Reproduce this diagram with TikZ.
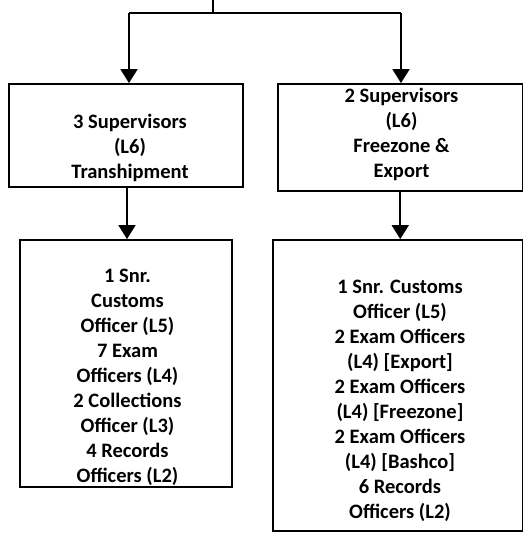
\documentclass[tikz,border=0pt]{standalone}
\usepackage{fontspec}
\setmainfont{Carlito}
\usepackage{tikz}
\usetikzlibrary{positioning,calc,arrows.meta}
\newcommand{\orgline}{1.8pt}
\newcommand{\orgfont}{\fontsize{20.5}{25}\selectfont\bfseries}

\begin{document}
\begin{tikzpicture}[x=1pt, y=-1pt, line width=\orgline,
    orgbox/.style={draw, rectangle, inner sep=0pt},
    orgtext/.style={align=center, inner sep=0pt, font=\orgfont},
    orgarrow/.style={-{Triangle[width=17pt,length=14pt]}}]
  \useasboundingbox (0,0) rectangle (524,539);

  \coordinate (top) at (213, 0);
  \coordinate (split) at (213, 13);
  \coordinate (bl) at (129, 13);
  \coordinate (br) at (401, 13);

  \node [orgbox, minimum width=234pt, minimum height=103pt] (sup1) at (126, 135.5) {};
  \node [orgbox, minimum width=244.5pt, minimum height=107pt] (sup2) at (400.25, 137.5) {};
  \node [orgbox, minimum width=212pt, minimum height=247pt] (staff1) at (126, 363.5) {};
  \node [orgbox, minimum width=249.5pt, minimum height=291pt] (staff2) at (397.75, 385.5) {};

  \node [orgtext] (sup1txt) at (130, 148) {3 Supervisors\\(L6)\\Transhipment};
  \node [orgtext] (sup2txt) at (401.5, 134.5) {2 Supervisors\\(L6)\\Freezone \&\\Export};
  \node [orgtext] (staff1txt) at (127.5, 377.5) {1 Snr.\\Customs\\Officer (L5)\\7 Exam\\Officers (L4)\\2 Collections\\Officer (L3)\\4 Records\\Officers (L2)};
  \node [orgtext] (staff2txt) at (400, 400.5) {1 Snr. Customs\\Officer (L5)\\2 Exam Officers\\(L4) [Export]\\2 Exam Officers\\(L4) [Freezone]\\2 Exam Officers\\(L4) [Bashco]\\6 Records\\Officers (L2)};

  \draw (top) -- (split);
  \draw (bl) -- (br);
  \draw [orgarrow] (bl) -- (bl |- sup1.north);
  \draw [orgarrow] (br) -- (br |- sup2.north);
  \draw [orgarrow] ([xshift=1pt]sup1.south) -- ([xshift=1pt]sup1.south |- staff1.north);
  \draw [orgarrow] (sup2.south) -- (sup2.south |- staff2.north);
\end{tikzpicture}
\end{document}
